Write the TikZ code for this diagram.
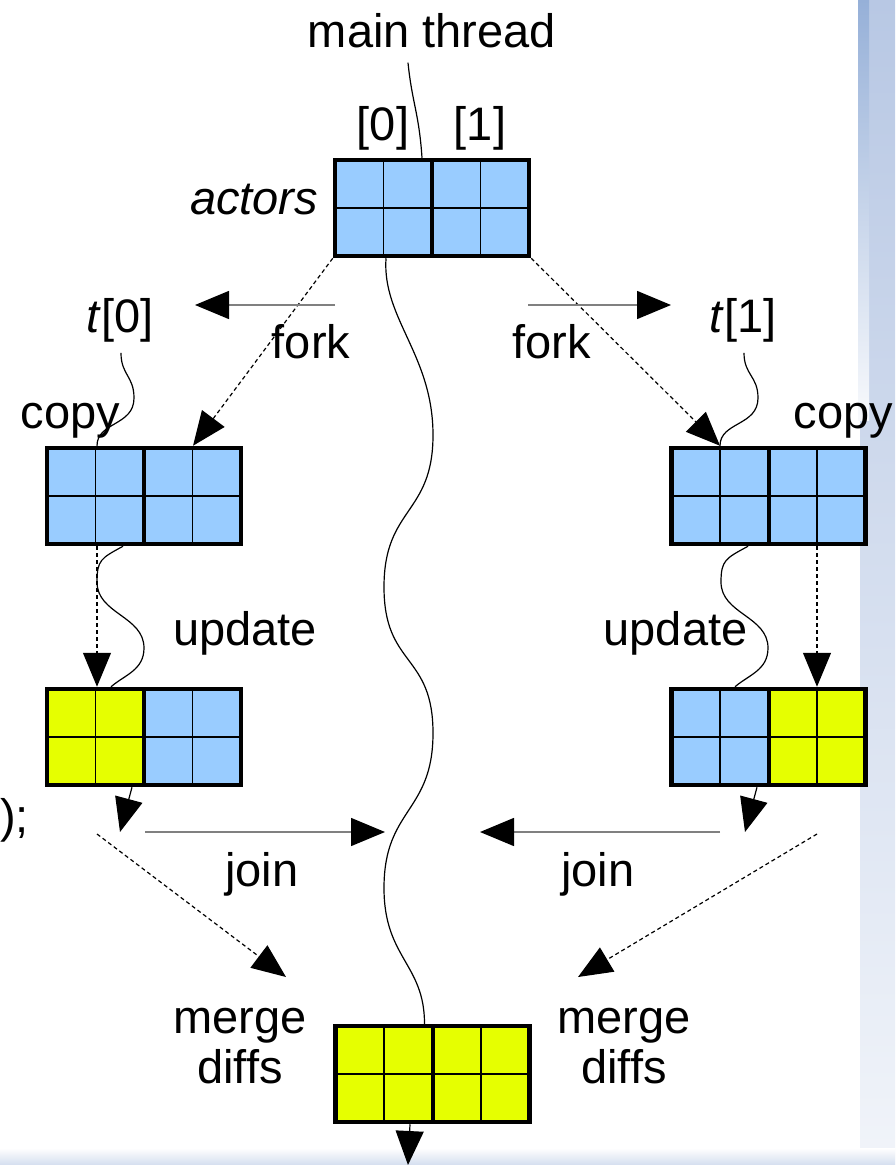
\documentclass[tikz,border=0pt]{standalone}
\usepackage{fontspec}
\setmainfont{Liberation Sans}
\usetikzlibrary{arrows.meta}

\definecolor{cellblue}{RGB}{153,204,255}
\definecolor{cellyellow}{RGB}{230,255,0}
\definecolor{slideblue}{RGB}{184,200,228}
\definecolor{slidedark}{RGB}{150,176,216}

\begin{document}
\begin{tikzpicture}[x=1pt,y=-1pt,
    lbl/.style={font=\fontsize{47}{50}\selectfont, inner sep=1pt},
    arr/.style={-{Triangle[length=34pt,width=28pt]}},
    thread/.style={line width=1.2pt},
    copyline/.style={line width=1.2pt, dash pattern=on 4pt off 3pt},
    joinline/.style={draw=gray, line width=1.5pt, -{Triangle[length=34pt,width=28pt,color=black]}},
    box/.style 2 args={draw, line width=4.5pt, minimum width=194pt, minimum height=96pt, inner sep=0pt,
      path picture={
        \fill[#1] (path picture bounding box.south west) rectangle (path picture bounding box.north);
        \fill[#2] (path picture bounding box.south) rectangle (path picture bounding box.north east);
        \draw[line width=1.5pt] (path picture bounding box.west) -- (path picture bounding box.east)
          ([xshift=-48.5pt]path picture bounding box.north) -- ([xshift=-48.5pt]path picture bounding box.south)
          ([xshift=48.5pt]path picture bounding box.north) -- ([xshift=48.5pt]path picture bounding box.south);
        \draw[line width=4pt] (path picture bounding box.north) -- (path picture bounding box.south);
      }}]
  \useasboundingbox (0,0) rectangle (895,1165);
  % slide background
  \shade[top color=slideblue, bottom color=slideblue!20] (860,0) rectangle (895,1165);
  \shade[top color=slidedark, bottom color=slideblue!10] (858,0) rectangle (869,420);
  \shade[top color=white, bottom color=slideblue!60] (0,1148) rectangle (895,1165);

  % arrays
  \node[box={cellblue}{cellblue}] (act) at (432,208) {};
  \node[box={cellblue}{cellblue}] (cp0) at (144,496) {};
  \node[box={cellblue}{cellblue}] (cp1) at (768.5,496) {};
  \node[box={cellyellow}{cellblue}] (up0) at (144,737) {};
  \node[box={cellblue}{cellyellow}] (up1) at (768.5,737) {};
  \node[box={cellyellow}{cellyellow}] (mrg) at (432.5,1074) {};

  % labels
  \node[lbl, anchor=base] (mt) at (432,47) {main thread};
  \node[lbl, anchor=base] (i0) at (383,140) {[0]};
  \node[lbl, anchor=base] (i1) at (480,140) {[1]};
  \node[lbl, anchor=base] (name) at (254,214) {\textit{actors}};
  \node[lbl, anchor=base] (t0) at (120,332) {\textit{t}[0]};
  \node[lbl, anchor=base] (t1) at (743,332) {\textit{t}[1]};
  \node[lbl, anchor=base] (f0) at (311,358) {fork};
  \node[lbl, anchor=base] (f1) at (551.5,358) {fork};
  \node[lbl, anchor=base] (c0) at (70.5,428) {copy};
  \node[lbl, anchor=base] (c1) at (843.5,428) {copy};
  \node[lbl, anchor=base] (u0) at (245,645) {update};
  \node[lbl, anchor=base] (u1) at (675.5,645) {update};
  \node[lbl, anchor=base] (j0) at (262,886) {join};
  \node[lbl, anchor=base] (j1) at (598,886) {join};
  \node[lbl, anchor=base, align=center] (md0) at (240,1083) {merge\\diffs};
  \node[lbl, anchor=base, align=center] (md1) at (624,1083) {merge\\diffs};
  \node[lbl, anchor=base west, inner sep=0pt] (call) at (0,832) {);};

  \coordinate (fk0a) at (335,305);
  \coordinate (fk0b) at (195,305);
  \coordinate (fk1a) at (528,305);
  \coordinate (fk1b) at (671,305);
  \coordinate (jn0a) at (145,832);
  \coordinate (jn0b) at (385,832);
  \coordinate (jn1a) at (720,832);
  \coordinate (jn1b) at (480,832);
  \coordinate (dn0) at (120,832);
  \coordinate (dn1) at (745,832);
  \coordinate (mg0a) at (97,834);
  \coordinate (mg0b) at (286,977);
  \coordinate (mg1a) at (817,834);
  \coordinate (mg1b) at (578,977);
  \coordinate (out) at (408,1165);

  % threads
  \draw[thread] ([xshift=-24pt,yshift=-14pt]mt.south) .. controls +(4,40) and +(-3,-45) .. ([xshift=-10pt]act.north);
  \draw[thread] ([xshift=-46pt]act.south) .. controls +(-4,60) and +(0,-80) .. (433,435)
    .. controls +(0,80) and +(0,-80) .. (384,587)
    .. controls +(0,80) and +(0,-80) .. (433,733)
    .. controls +(0,80) and +(0,-80) .. (384,888)
    .. controls +(0,70) and +(0,-60) .. ([xshift=-8pt]mrg.north);
  \draw[thread] ([xshift=1pt,yshift=-10pt]t0.south) .. controls +(0,22) and +(0,-22) .. (134,398)
    .. controls +(0,28) and +(0,-24) .. ([xshift=-47pt]cp0.north);
  \draw[thread] ([xshift=1pt,yshift=-10pt]t1.south) .. controls +(0,22) and +(0,-22) .. (758,398)
    .. controls +(0,28) and +(0,-24) .. ([xshift=-48.5pt]cp1.north);
  \draw[thread] ([xshift=-21pt]cp0.south) .. controls +(-22,12) and +(0,-22) .. (97,582)
    .. controls +(0,32) and +(0,-32) .. (144,648)
    .. controls +(0,22) and +(14,-12) .. ([xshift=-33pt]up0.north);
  \draw[thread] ([xshift=-20.5pt]cp1.south) .. controls +(-22,12) and +(0,-22) .. (721,582)
    .. controls +(0,32) and +(0,-32) .. (768,648)
    .. controls +(0,22) and +(14,-12) .. ([xshift=-33.5pt]up1.north);

  % copies
  \draw[copyline, arr] (act.south west) -- ([xshift=49pt]cp0.north);
  \draw[copyline, arr] (act.south east) -- ([xshift=-48.5pt]cp1.north);
  \draw[copyline, arr] ([xshift=-47pt]cp0.south) -- ([xshift=-47pt]up0.north);
  \draw[copyline, arr] ([xshift=48.5pt]cp1.south) -- ([xshift=48.5pt]up1.north);
  \draw[copyline, arr] (mg0a) -- (mg0b);
  \draw[copyline, arr] (mg1a) -- (mg1b);

  % fork, join
  \draw[joinline] (fk0a) -- (fk0b);
  \draw[joinline] (fk1a) -- (fk1b);
  \draw[joinline] (jn0a) -- (jn0b);
  \draw[joinline] (jn1a) -- (jn1b);
  \draw[thread, arr] ([xshift=-12pt]up0.south) -- (dn0);
  \draw[thread, arr] ([xshift=-11.5pt]up1.south) -- (dn1);
  \draw[thread, arr] ([xshift=-22.5pt]mrg.south) -- (out);
\end{tikzpicture}
\end{document}
